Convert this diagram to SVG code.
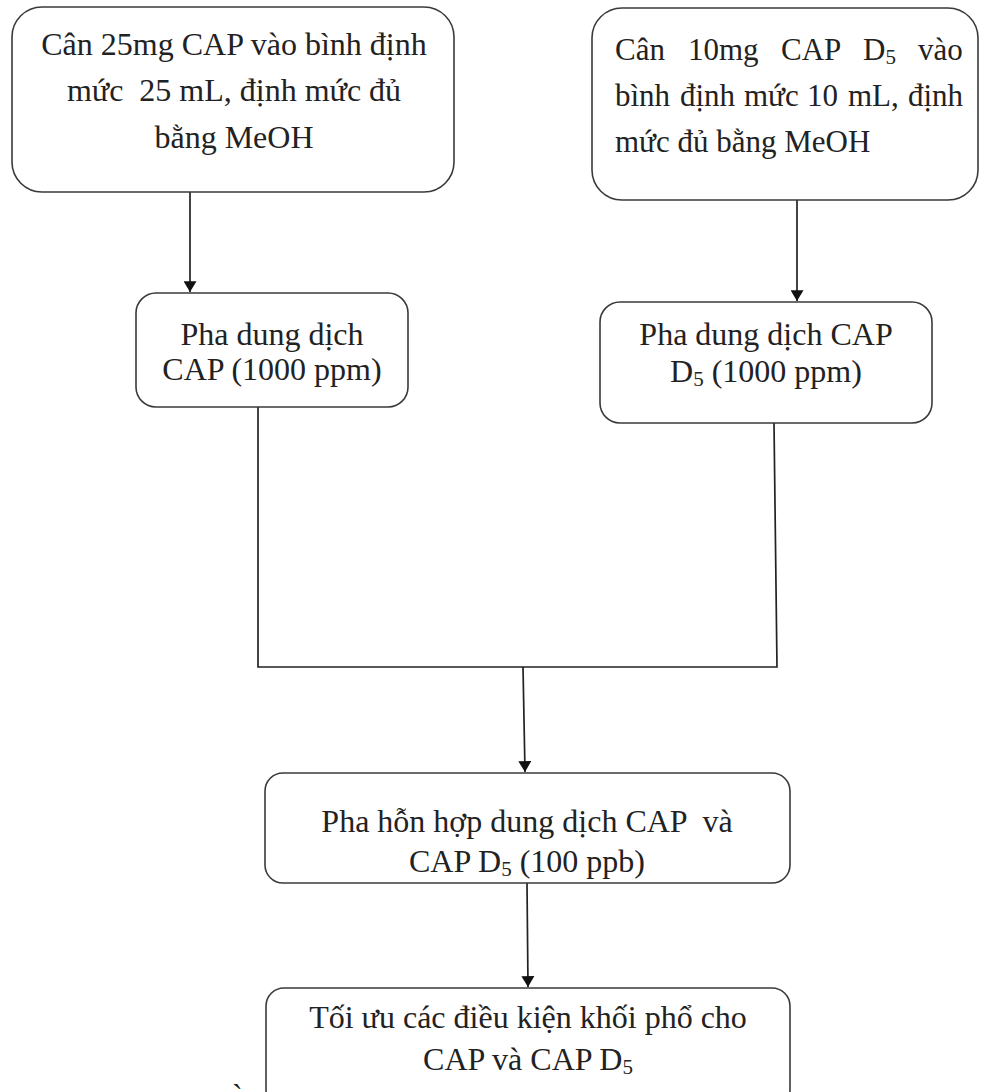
<svg xmlns="http://www.w3.org/2000/svg" width="981" height="1092" viewBox="0 0 981 1092">
<style>
.box{fill:#fff;stroke:#3a3a3a;stroke-width:1.6}
.t{font-family:"Liberation Serif","Times New Roman",serif;font-size:32px;fill:#222;white-space:pre}
.t31{font-size:31px}
.c{text-anchor:middle}
.sub{font-size:21px}
.ln{fill:none;stroke:#222;stroke-width:1.7}
</style>
<defs>
<marker id="ah" viewBox="0 0 10 12" refX="10" refY="6" markerWidth="11" markerHeight="13" markerUnits="userSpaceOnUse" orient="auto">
<path d="M0,0 L10,6 L0,12 Z" fill="#111"/>
</marker>
</defs>
<rect width="981" height="1092" fill="#fff"/>
<g id="connectors">
<line class="ln" x1="190" y1="192" x2="190" y2="292" marker-end="url(#ah)"/>
<line class="ln" x1="797" y1="200" x2="797" y2="301" marker-end="url(#ah)"/>
<polyline class="ln" points="258,407 258,667 777,667 774,423"/>
<line class="ln" x1="523" y1="667" x2="525" y2="772" marker-end="url(#ah)"/>
<line class="ln" x1="527" y1="883" x2="528" y2="987" marker-end="url(#ah)"/>
</g>
<g id="node1">
<rect class="box" x="12" y="7" width="442" height="185" rx="30"/>
<text class="t c" x="234" y="55">Cân 25mg CAP vào bình định</text>
<text class="t c" x="234" y="101">mức  25 mL, định mức đủ</text>
<text class="t c" x="234" y="148">bằng MeOH</text>
</g>
<g id="node2">
<rect class="box" x="592" y="8" width="386" height="192" rx="30"/>
<text class="t t31" y="60"><tspan x="615">Cân</tspan><tspan x="688">10mg</tspan><tspan x="781">CAP</tspan><tspan x="863">D</tspan><tspan class="sub" dy="4">5</tspan><tspan x="918" dy="-4">vào</tspan></text>
<text class="t t31" y="106"><tspan x="615">bình</tspan><tspan x="680">định</tspan><tspan x="744">mức</tspan><tspan x="807">10</tspan><tspan x="848">mL,</tspan><tspan x="908">định</tspan></text>
<text class="t t31" x="615" y="152">mức đủ bằng MeOH</text>
</g>
<g id="node3">
<rect class="box" x="136" y="293" width="272" height="114" rx="20"/>
<text class="t c" x="272" y="345">Pha dung dịch</text>
<text class="t c" x="272" y="380">CAP (1000 ppm)</text>
</g>
<g id="node4">
<rect class="box" x="600" y="302" width="332" height="121" rx="20"/>
<text class="t c" x="766" y="345">Pha dung dịch CAP</text>
<text class="t c" x="766" y="382">D<tspan class="sub" dy="4">5</tspan><tspan dy="-4"> (1000 ppm)</tspan></text>
</g>
<g id="node5">
<rect class="box" x="265" y="773" width="525" height="110" rx="18"/>
<text class="t c" x="527" y="832">Pha hỗn hợp dung dịch CAP  và</text>
<text class="t c" x="527" y="872">CAP D<tspan class="sub" dy="4">5</tspan><tspan dy="-4"> (100 ppb)</tspan></text>
</g>
<g id="node6">
<rect class="box" x="266" y="988" width="524" height="120" rx="18"/>
<text class="t c" x="528" y="1028">Tối ưu các điều kiện khối phổ cho</text>
<text class="t c" x="528" y="1070">CAP và CAP D<tspan class="sub" dy="4">5</tspan></text>
</g>
<text class="t" x="232" y="1106">`</text>
</svg>
